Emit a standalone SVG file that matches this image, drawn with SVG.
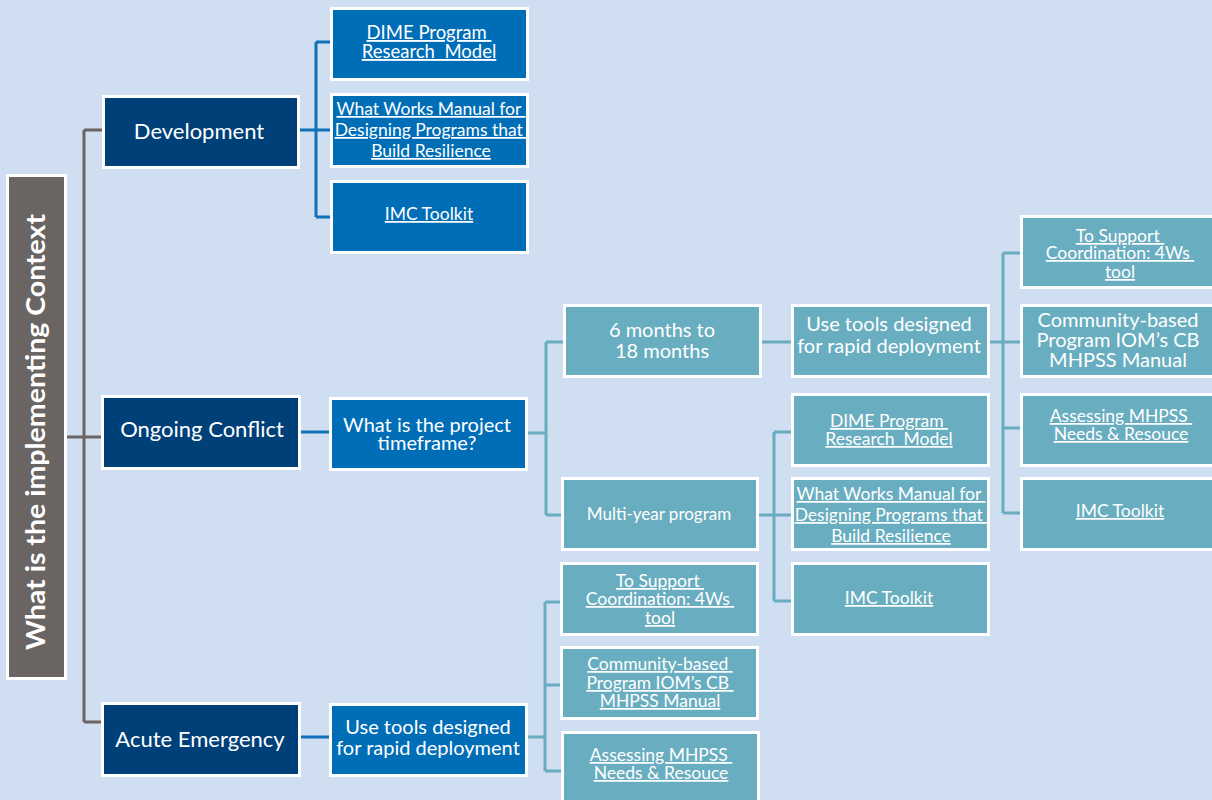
<svg xmlns="http://www.w3.org/2000/svg" width="1212" height="800" viewBox="0 0 1212 800">
  <style>
    text { font-family: Lato, "Open Sans", "Liberation Sans", sans-serif; fill: #ffffff; text-anchor: middle; white-space: pre; }
    .box { stroke: #ffffff; stroke-width: 3; }
    .root { fill: #6a6462; }
    .navy { fill: #004078; }
    .blue { fill: #006db7; }
    .teal { fill: #69adc0; }
    .link { text-decoration: underline; font-size: 17.5px; }
    .dime { font-size: 18.5px; }
    .l1 { font-size: 22px; }
    .q { font-size: 20px; }
    .conn { fill: none; stroke-width: 3; }
    .g { stroke: #6a6462; }
    .b { stroke: #1070b8; }
    .t { stroke: #6aacbf; }
  </style>
  <rect width="1212" height="800" fill="#cfdef0"/>

  <!-- connectors -->
  <g id="connectors">
    <path class="conn g" d="M67 437 H102 M84 130 V722 M84 130 H102 M84 722 H102"/>
    <path class="conn b" d="M300 130 H331 M316 42 V217 M316 42 H331 M316 217 H331"/>
    <path class="conn b" d="M300 432 H330"/>
    <path class="conn b" d="M300 737 H330"/>
    <path class="conn t" d="M528 433 H546 M546 342 V515 M546 342 H563 M546 515 H562"/>
    <path class="conn t" d="M761 342 H792"/>
    <path class="conn t" d="M990 342 H1021 M1003 253 V513 M1003 253 H1021 M1003 428 H1021 M1003 513 H1021"/>
    <path class="conn t" d="M759 515 H792 M774 432 V601 M774 432 H792 M774 601 H792"/>
    <path class="conn t" d="M528 737 H545 M545 602 V771 M545 602 H562 M545 685 H562 M545 771 H562"/>
  </g>

  <!-- root -->
  <g id="root">
    <rect class="box root" x="7.5" y="175.5" width="58" height="503"/>
    <text transform="translate(45 432) rotate(-90)" font-size="26" font-weight="bold" textLength="436" lengthAdjust="spacingAndGlyphs">What is the implementing Context</text>
  </g>

  <!-- level 1 -->
  <g id="development">
    <rect class="box navy" x="103.5" y="96.5" width="195" height="71"/>
    <text class="l1" x="199" y="139">Development</text>
  </g>
  <g id="ongoing-conflict">
    <rect class="box navy" x="102.5" y="396.5" width="197" height="72"/>
    <text class="l1" x="202" y="437">Ongoing Conflict</text>
  </g>
  <g id="acute-emergency">
    <rect class="box navy" x="102.5" y="703.5" width="197" height="72"/>
    <text class="l1" x="200" y="747">Acute Emergency</text>
  </g>

  <!-- development tools -->
  <g id="dev-dime">
    <rect class="box blue" x="331.5" y="8.5" width="196" height="71"/>
    <text class="link dime" x="429" y="39">DIME Program </text>
    <text class="link dime" x="429" y="58">Research  Model</text>
  </g>
  <g id="dev-whatworks">
    <rect class="box blue" x="331.5" y="94.5" width="196" height="72"/>
    <text class="link" x="431" y="115">What Works Manual for </text>
    <text class="link" x="431" y="136">Designing Programs that </text>
    <text class="link" x="431" y="157">Build Resilience</text>
  </g>
  <g id="dev-imc">
    <rect class="box blue" x="331.5" y="181.5" width="196" height="71"/>
    <text class="link" x="429" y="220">IMC Toolkit</text>
  </g>

  <!-- ongoing conflict branch -->
  <g id="timeframe">
    <rect class="box blue" x="330.5" y="398.5" width="196" height="71"/>
    <text x="427" y="432" font-size="20">What is the project</text>
    <text x="427" y="450" font-size="20">timeframe?</text>
  </g>
  <g id="six-to-eighteen">
    <rect class="box teal" x="564.5" y="305.5" width="196" height="71"/>
    <text class="q" x="662" y="337">6 months to</text>
    <text class="q" x="662" y="358">18 months</text>
  </g>
  <g id="multi-year">
    <rect class="box teal" x="562.5" y="478.5" width="195" height="71"/>
    <text x="659" y="520" font-size="17">Multi-year program</text>
  </g>
  <g id="rapid-mid">
    <rect class="box teal" x="792.5" y="305.5" width="196" height="71"/>
    <text class="q" x="889" y="331">Use tools designed</text>
    <text class="q" x="889" y="353">for rapid deployment</text>
  </g>

  <!-- rapid deployment tools (right column) -->
  <g id="right-4ws">
    <rect class="box teal" x="1021.5" y="216.5" width="196" height="71"/>
    <text class="link" x="1120" y="242">To Support </text>
    <text class="link" x="1120" y="259">Coordination: 4Ws </text>
    <text class="link" x="1120" y="278">tool</text>
  </g>
  <g id="right-community">
    <rect class="box teal" x="1021.5" y="305.5" width="196" height="71"/>
    <text x="1118" y="327" font-size="20">Community-based</text>
    <text x="1118" y="347" font-size="20">Program IOM’s CB</text>
    <text x="1118" y="367" font-size="20">MHPSS Manual</text>
  </g>
  <g id="right-assessing">
    <rect class="box teal" x="1021.5" y="394.5" width="196" height="71"/>
    <text class="link" x="1121" y="422">Assessing MHPSS </text>
    <text class="link" x="1121" y="440">Needs &amp; Resouce</text>
  </g>
  <g id="right-imc">
    <rect class="box teal" x="1021.5" y="478.5" width="196" height="71"/>
    <text class="link" x="1120" y="517">IMC Toolkit</text>
  </g>

  <!-- multi-year tools (middle column) -->
  <g id="mid-dime">
    <rect class="box teal" x="792.5" y="394.5" width="196" height="71"/>
    <text class="link" x="889" y="427">DIME Program </text>
    <text class="link" x="889" y="445">Research  Model</text>
  </g>
  <g id="mid-whatworks">
    <rect class="box teal" x="792.5" y="478.5" width="196" height="71"/>
    <text class="link" x="891" y="500">What Works Manual for </text>
    <text class="link" x="891" y="521">Designing Programs that </text>
    <text class="link" x="891" y="542">Build Resilience</text>
  </g>
  <g id="mid-imc">
    <rect class="box teal" x="792.5" y="563.5" width="196" height="71"/>
    <text class="link" x="889" y="604">IMC Toolkit</text>
  </g>

  <!-- acute emergency branch -->
  <g id="rapid-acute">
    <rect class="box blue" x="330.5" y="704.5" width="196" height="71"/>
    <text class="q" x="428" y="734">Use tools designed</text>
    <text class="q" x="428" y="755">for rapid deployment</text>
  </g>
  <g id="acute-4ws">
    <rect class="box teal" x="561.5" y="563.5" width="196" height="71"/>
    <text class="link" x="660" y="587">To Support </text>
    <text class="link" x="660" y="605">Coordination: 4Ws </text>
    <text class="link" x="660" y="624">tool</text>
  </g>
  <g id="acute-community">
    <rect class="box teal" x="561.5" y="647.5" width="196" height="71"/>
    <text class="link" x="660" y="670">Community-based </text>
    <text class="link" x="660" y="689">Program IOM’s CB </text>
    <text class="link" x="660" y="707">MHPSS Manual</text>
  </g>
  <g id="acute-assessing">
    <rect class="box teal" x="562.5" y="732.5" width="196" height="72"/>
    <text class="link" x="661" y="761">Assessing MHPSS </text>
    <text class="link" x="661" y="779">Needs &amp; Resouce</text>
  </g>
</svg>
